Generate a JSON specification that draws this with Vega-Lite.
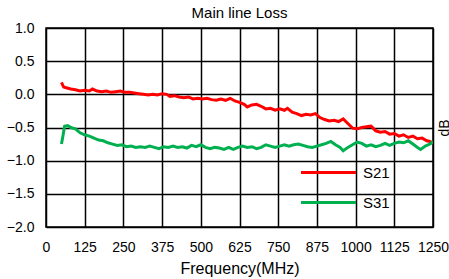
{
  "$schema": "https://vega.github.io/schema/vega-lite/v6.json",
  "width": 387,
  "height": 199,
  "autosize": {"type": "none"},
  "padding": {"left": 46, "top": 28, "right": 16, "bottom": 52},
  "background": "white",
  "title": {"text": "Main line Loss", "fontSize": 15, "fontWeight": "normal", "font": "Liberation Sans", "color": "black", "offset": 0},
  "config": {
    "view": {"stroke": "black", "strokeWidth": 1.5},
    "font": "Liberation Sans"
  },
  "data": {"values": [
    {"s":"S21","f":50,"v":0.18},{"s":"S21","f":57,"v":0.11},{"s":"S21","f":65,"v":0.10},{"s":"S21","f":80,"v":0.08},{"s":"S21","f":95,"v":0.07},{"s":"S21","f":110,"v":0.05},{"s":"S21","f":125,"v":0.06},{"s":"S21","f":140,"v":0.05},{"s":"S21","f":150,"v":0.08},{"s":"S21","f":165,"v":0.05},{"s":"S21","f":180,"v":0.04},{"s":"S21","f":195,"v":0.05},{"s":"S21","f":210,"v":0.03},{"s":"S21","f":225,"v":0.04},{"s":"S21","f":240,"v":0.05},{"s":"S21","f":255,"v":0.03},{"s":"S21","f":270,"v":0.03},{"s":"S21","f":285,"v":0.02},{"s":"S21","f":300,"v":0.01},{"s":"S21","f":315,"v":0.0},{"s":"S21","f":330,"v":-0.01},{"s":"S21","f":345,"v":0.0},{"s":"S21","f":360,"v":-0.01},{"s":"S21","f":375,"v":0.01},{"s":"S21","f":390,"v":0.0},{"s":"S21","f":400,"v":-0.03},{"s":"S21","f":415,"v":-0.02},{"s":"S21","f":430,"v":-0.04},{"s":"S21","f":445,"v":-0.05},{"s":"S21","f":460,"v":-0.04},{"s":"S21","f":475,"v":-0.07},{"s":"S21","f":490,"v":-0.06},{"s":"S21","f":505,"v":-0.07},{"s":"S21","f":520,"v":-0.06},{"s":"S21","f":535,"v":-0.08},{"s":"S21","f":550,"v":-0.09},{"s":"S21","f":565,"v":-0.07},{"s":"S21","f":580,"v":-0.09},{"s":"S21","f":595,"v":-0.06},{"s":"S21","f":610,"v":-0.10},{"s":"S21","f":625,"v":-0.12},{"s":"S21","f":640,"v":-0.15},{"s":"S21","f":650,"v":-0.19},{"s":"S21","f":665,"v":-0.16},{"s":"S21","f":680,"v":-0.15},{"s":"S21","f":695,"v":-0.18},{"s":"S21","f":710,"v":-0.22},{"s":"S21","f":725,"v":-0.21},{"s":"S21","f":740,"v":-0.24},{"s":"S21","f":755,"v":-0.22},{"s":"S21","f":770,"v":-0.24},{"s":"S21","f":780,"v":-0.21},{"s":"S21","f":795,"v":-0.27},{"s":"S21","f":810,"v":-0.29},{"s":"S21","f":825,"v":-0.32},{"s":"S21","f":840,"v":-0.30},{"s":"S21","f":855,"v":-0.31},{"s":"S21","f":870,"v":-0.29},{"s":"S21","f":885,"v":-0.35},{"s":"S21","f":900,"v":-0.38},{"s":"S21","f":915,"v":-0.40},{"s":"S21","f":930,"v":-0.39},{"s":"S21","f":945,"v":-0.41},{"s":"S21","f":960,"v":-0.37},{"s":"S21","f":975,"v":-0.44},{"s":"S21","f":990,"v":-0.51},{"s":"S21","f":1005,"v":-0.52},{"s":"S21","f":1020,"v":-0.50},{"s":"S21","f":1035,"v":-0.49},{"s":"S21","f":1050,"v":-0.48},{"s":"S21","f":1065,"v":-0.55},{"s":"S21","f":1080,"v":-0.57},{"s":"S21","f":1095,"v":-0.56},{"s":"S21","f":1110,"v":-0.60},{"s":"S21","f":1125,"v":-0.59},{"s":"S21","f":1140,"v":-0.63},{"s":"S21","f":1155,"v":-0.61},{"s":"S21","f":1170,"v":-0.65},{"s":"S21","f":1185,"v":-0.63},{"s":"S21","f":1200,"v":-0.67},{"s":"S21","f":1215,"v":-0.66},{"s":"S21","f":1230,"v":-0.70},{"s":"S21","f":1240,"v":-0.71},{"s":"S21","f":1250,"v":-0.74},
    {"s":"S31","f":50,"v":-0.75},{"s":"S31","f":55,"v":-0.62},{"s":"S31","f":60,"v":-0.48},{"s":"S31","f":70,"v":-0.47},{"s":"S31","f":80,"v":-0.50},{"s":"S31","f":95,"v":-0.52},{"s":"S31","f":110,"v":-0.58},{"s":"S31","f":125,"v":-0.61},{"s":"S31","f":140,"v":-0.63},{"s":"S31","f":155,"v":-0.66},{"s":"S31","f":170,"v":-0.69},{"s":"S31","f":185,"v":-0.70},{"s":"S31","f":200,"v":-0.73},{"s":"S31","f":215,"v":-0.75},{"s":"S31","f":230,"v":-0.77},{"s":"S31","f":245,"v":-0.76},{"s":"S31","f":260,"v":-0.79},{"s":"S31","f":275,"v":-0.78},{"s":"S31","f":290,"v":-0.80},{"s":"S31","f":305,"v":-0.79},{"s":"S31","f":320,"v":-0.80},{"s":"S31","f":335,"v":-0.78},{"s":"S31","f":350,"v":-0.80},{"s":"S31","f":365,"v":-0.82},{"s":"S31","f":380,"v":-0.79},{"s":"S31","f":395,"v":-0.80},{"s":"S31","f":410,"v":-0.78},{"s":"S31","f":425,"v":-0.80},{"s":"S31","f":440,"v":-0.79},{"s":"S31","f":455,"v":-0.81},{"s":"S31","f":470,"v":-0.77},{"s":"S31","f":485,"v":-0.79},{"s":"S31","f":500,"v":-0.76},{"s":"S31","f":515,"v":-0.80},{"s":"S31","f":530,"v":-0.82},{"s":"S31","f":545,"v":-0.80},{"s":"S31","f":560,"v":-0.81},{"s":"S31","f":575,"v":-0.83},{"s":"S31","f":590,"v":-0.80},{"s":"S31","f":605,"v":-0.83},{"s":"S31","f":620,"v":-0.80},{"s":"S31","f":635,"v":-0.78},{"s":"S31","f":650,"v":-0.80},{"s":"S31","f":665,"v":-0.79},{"s":"S31","f":680,"v":-0.82},{"s":"S31","f":695,"v":-0.80},{"s":"S31","f":710,"v":-0.76},{"s":"S31","f":725,"v":-0.78},{"s":"S31","f":740,"v":-0.80},{"s":"S31","f":755,"v":-0.78},{"s":"S31","f":770,"v":-0.76},{"s":"S31","f":785,"v":-0.78},{"s":"S31","f":800,"v":-0.76},{"s":"S31","f":815,"v":-0.75},{"s":"S31","f":830,"v":-0.77},{"s":"S31","f":845,"v":-0.79},{"s":"S31","f":860,"v":-0.80},{"s":"S31","f":875,"v":-0.78},{"s":"S31","f":890,"v":-0.76},{"s":"S31","f":905,"v":-0.74},{"s":"S31","f":920,"v":-0.71},{"s":"S31","f":935,"v":-0.76},{"s":"S31","f":950,"v":-0.80},{"s":"S31","f":960,"v":-0.85},{"s":"S31","f":975,"v":-0.80},{"s":"S31","f":990,"v":-0.76},{"s":"S31","f":1005,"v":-0.72},{"s":"S31","f":1020,"v":-0.74},{"s":"S31","f":1035,"v":-0.78},{"s":"S31","f":1050,"v":-0.76},{"s":"S31","f":1065,"v":-0.79},{"s":"S31","f":1080,"v":-0.77},{"s":"S31","f":1095,"v":-0.74},{"s":"S31","f":1110,"v":-0.77},{"s":"S31","f":1125,"v":-0.74},{"s":"S31","f":1140,"v":-0.72},{"s":"S31","f":1155,"v":-0.73},{"s":"S31","f":1170,"v":-0.70},{"s":"S31","f":1185,"v":-0.75},{"s":"S31","f":1200,"v":-0.80},{"s":"S31","f":1210,"v":-0.83},{"s":"S31","f":1225,"v":-0.78},{"s":"S31","f":1240,"v":-0.75},{"s":"S31","f":1250,"v":-0.71}
  ]},
  "encoding": {
    "x": {"field": "f", "type": "quantitative", "scale": {"domain": [0, 1250], "nice": false, "zero": false},
      "axis": {"values": [0,125,250,375,500,625,750,875,1000,1125,1250], "format": "d", "title": "Frequency(MHz)", "grid": true, "gridColor": "black", "gridOpacity": 1, "gridWidth": 1.5, "domain": false, "ticks": false, "labelPadding": 13, "labelFontSize": 14, "labelColor": "black", "labelFlush": false, "labelOverlap": false, "titleFontSize": 16, "titleFontWeight": "normal", "titleColor": "black", "titlePadding": 6, "labelFont": "Liberation Sans", "titleFont": "Liberation Sans"}}
  },
  "layer": [
    {
      "mark": {"type": "line", "strokeWidth": 3, "clip": true},
      "encoding": {
        "y": {"field": "v", "type": "quantitative", "scale": {"domain": [-2, 1], "nice": false, "zero": false},
          "axis": {"values": [-2,-1.5,-1,-0.5,0,0.5,1], "format": ".1f", "title": null, "grid": true, "gridColor": "black", "gridOpacity": 1, "gridWidth": 1.5, "domain": false, "ticks": false, "labelPadding": 12, "labelFontSize": 14, "labelColor": "black", "labelFont": "Liberation Sans"}},
        "color": {"field": "s", "type": "nominal", "scale": {"domain": ["S21", "S31"], "range": ["#FF0000", "#00B050"]},
          "legend": {"title": null, "orient": "none", "legendX": 274, "legendY": 136, "symbolType": "M-4,0H4", "symbolSize": 189, "symbolStrokeWidth": 3, "symbolFillColor": "transparent", "labelFontSize": 15, "labelColor": "black", "labelOffset": 26, "rowPadding": 13, "labelFont": "Liberation Sans"}}
      }
    },
    {
      "mark": {"type": "line", "opacity": 0},
      "encoding": {
        "y": {"field": "v", "type": "quantitative", "axis": {"orient": "right", "title": "dB", "labels": false, "ticks": false, "domain": false, "grid": false, "titleAngle": 270, "titleFontSize": 14, "titleFontWeight": "normal", "titleColor": "black", "titlePadding": 18, "titleFont": "Liberation Sans"}},
        "detail": {"field": "s", "type": "nominal"}
      }
    }
  ],
  "resolve": {"axis": {"y": "independent"}}
}
